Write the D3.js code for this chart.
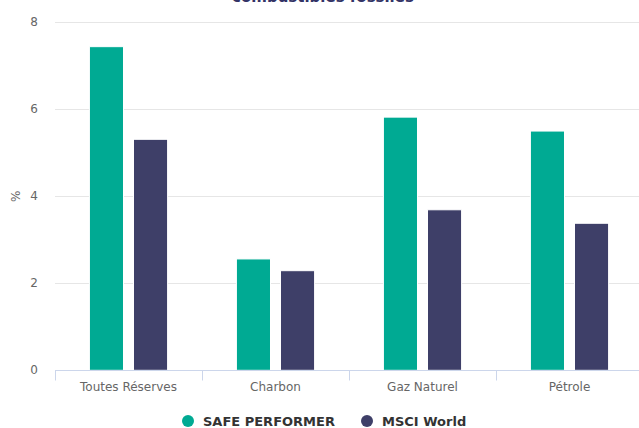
<!DOCTYPE html>
<html><head><meta charset="utf-8">
<script src="https://cdn.jsdelivr.net/npm/d3@7"></script>
<style>body{margin:0;background:#fff}svg{display:block}text{font-family:"DejaVu Sans",sans-serif}</style>
</head><body>
<svg id="c" width="639" height="428"></svg>
<script>
const categories = ["Toutes Réserves", "Charbon", "Gaz Naturel", "Pétrole"];
const seriesNames = ["SAFE PERFORMER", "MSCI World"];
const safePerformer = [7.44, 2.56, 5.82, 5.50];
const msciWorld = [5.31, 2.29, 3.69, 3.38];
const yTicks = [0, 2, 4, 6, 8];
const colors = ["#00aa93", "#3e3f68"];

const svg = d3.select("#c");
const W = 639, H = 428;
const m = {left: 55, right: -4, top: 22.3, bottom: 57.7};
const x = d3.scaleBand().domain(categories).range([m.left, W - m.right]).paddingInner(0).paddingOuter(0);
const y = d3.scaleLinear().domain([0, 8]).range([H - m.bottom, m.top]);
const x1 = d3.scaleBand().domain(seriesNames).range([0, x.bandwidth()]).paddingInner(0.227).paddingOuter(0.78);

// title (mostly cut off at top, as in the reference)
svg.append("text").attr("x", 323).attr("y", 1.5).attr("text-anchor", "middle")
  .attr("fill", "#333366").attr("font-weight", "bold").attr("font-size", 15)
  .text("combustibles fossiles");

// grid
svg.append("g").selectAll("line").data(yTicks.filter(d => d > 0)).join("line")
  .attr("x1", m.left).attr("x2", W).attr("y1", d => Math.round(y(d)) + 0.5).attr("y2", d => Math.round(y(d)) + 0.5)
  .attr("stroke", "#e6e6e6");

// y labels
svg.append("g").selectAll("text").data(yTicks).join("text")
  .attr("x", 38).attr("y", d => y(d) + 4).attr("text-anchor", "end")
  .attr("fill", "#666").attr("font-size", 12).text(d => d);

svg.append("text").attr("transform", `translate(20,${y(4)}) rotate(-90)`)
  .attr("text-anchor", "middle").attr("fill", "#666").attr("font-size", 12).text("%");

// bars
const data = categories.map((c, i) => ({c, vals: [safePerformer[i], msciWorld[i]]}));
const g = svg.append("g");
data.forEach(d => {
  d.vals.forEach((v, j) => {
    g.append("rect")
      .attr("x", x(d.c) + x1(seriesNames[j]))
      .attr("y", y(v))
      .attr("width", x1.bandwidth())
      .attr("height", y(0) - y(v))
      .attr("fill", colors[j]).attr("stroke", "#fff").attr("stroke-width", 1);
  });
});

// x axis
const y0 = Math.round(y(0)) + 0.5;
svg.append("line").attr("x1", m.left).attr("x2", W).attr("y1", y0).attr("y2", y0).attr("stroke", "#ccd6eb");
const tickPos = categories.map(c => x(c));
svg.append("g").selectAll("line").data(tickPos).join("line")
  .attr("x1", d => Math.round(d) + 0.5).attr("x2", d => Math.round(d) + 0.5)
  .attr("y1", y0).attr("y2", y0 + 10).attr("stroke", "#ccd6eb");
svg.append("g").selectAll("text").data(categories).join("text")
  .attr("x", d => x(d) + x.bandwidth() / 2).attr("y", y0 + 20)
  .attr("text-anchor", "middle").attr("fill", "#666").attr("font-size", 12).text(d => d);

// legend
const leg = svg.append("g");
const legX = [188, 367];
seriesNames.forEach((s, i) => {
  leg.append("circle").attr("cx", legX[i]).attr("cy", 421).attr("r", 6).attr("fill", colors[i]);
  leg.append("text").attr("x", legX[i] + 15).attr("y", 426).attr("fill", "#333")
    .attr("font-weight", "bold").attr("font-size", 13).text(s);
});
</script>
</body></html>
